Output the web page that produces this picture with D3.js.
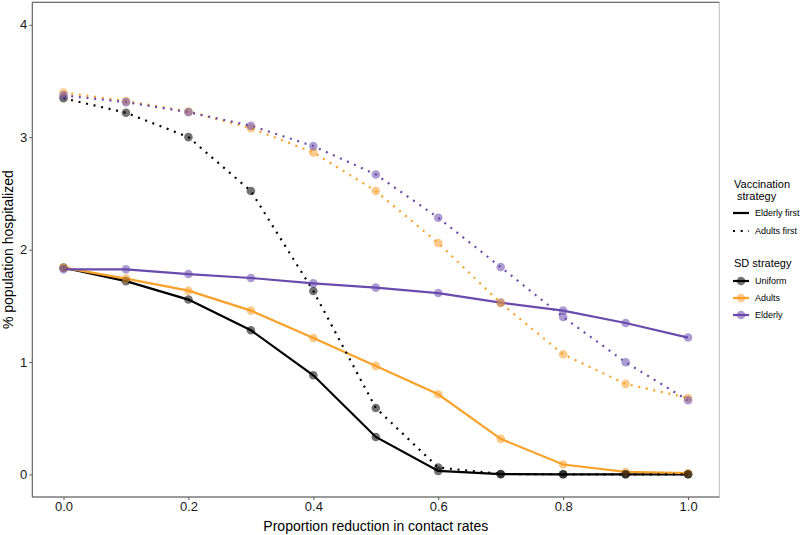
<!DOCTYPE html>
<html><head><meta charset="utf-8">
<script src="https://cdn.jsdelivr.net/npm/d3@7"></script>
<style>body{margin:0;background:#fff;} text{font-family:"Liberation Sans",Arial,sans-serif;}</style>
</head><body><svg id="chart" width="800" height="535"></svg>
<script>
const xValues = [0.0,0.1,0.2,0.3,0.4,0.5,0.6,0.7,0.8,0.9,1.0];
const sdStrategies = ["Uniform","Adults","Elderly"];
const vaccStrategies = ["Elderly first","Adults first"];
// Elderly first (solid)
const uniformElderlyFirst = [1.84,1.72,1.556,1.283,0.883,0.334,0.032,0.003,0.002,0.002,0.002];
const adultsElderlyFirst  = [1.84,1.742,1.635,1.458,1.214,0.966,0.714,0.317,0.089,0.023,0.012];
const elderlyElderlyFirst = [1.825,1.825,1.783,1.748,1.70,1.662,1.614,1.529,1.458,1.348,1.218];
// Adults first (dotted)
const uniformAdultsFirst = [3.346,3.218,3.001,2.521,1.632,0.592,0.062,0.005,0.002,0.002,0.002];
const adultsAdultsFirst  = [3.398,3.321,3.229,3.081,2.865,2.521,2.059,1.525,1.069,0.806,0.681];
const elderlyAdultsFirst = [3.372,3.312,3.223,3.102,2.921,2.669,2.284,1.845,1.401,0.998,0.660];
const xTicks = [0.0,0.2,0.4,0.6,0.8,1.0];
const yTicks = [0,1,2,3,4];

const colors = {"Uniform":"#000000","Adults":"#F8A12B","Elderly":"#6A4BAD"};
const series = [
  {sd:"Uniform",vacc:"Elderly first",values:uniformElderlyFirst},
  {sd:"Adults",vacc:"Elderly first",values:adultsElderlyFirst},
  {sd:"Elderly",vacc:"Elderly first",values:elderlyElderlyFirst},
  {sd:"Uniform",vacc:"Adults first",values:uniformAdultsFirst},
  {sd:"Adults",vacc:"Adults first",values:adultsAdultsFirst},
  {sd:"Elderly",vacc:"Adults first",values:elderlyAdultsFirst}
];
const DOT = "2,5.7";

const svg = d3.select("#chart");
const P = {l:32.3,r:719.3,t:2.3,b:497};
const x = d3.scaleLinear().domain([-0.05,1.05]).range([P.l,P.r]);
const y = d3.scaleLinear().domain([-0.2,4.2]).range([P.b,P.t]);

// panel border
svg.append("rect").attr("x",P.l).attr("y",P.t).attr("width",P.r-P.l).attr("height",P.b-P.t)
  .attr("fill","none").attr("stroke","#bdbdbd").attr("stroke-width",1);
svg.append("line").attr("x1",P.l).attr("x2",P.r).attr("y1",P.t).attr("y2",P.t).attr("stroke","#5a5a5a");
svg.append("line").attr("x1",P.l).attr("x2",P.l).attr("y1",P.t).attr("y2",P.b).attr("stroke","#5a5a5a");
svg.append("line").attr("x1",P.l).attr("x2",P.r).attr("y1",P.b).attr("y2",P.b).attr("stroke","#5a5a5a");

// axes
const xAxis = svg.append("g").attr("transform",`translate(0,${P.b})`)
  .call(d3.axisBottom(x).tickValues(xTicks).tickFormat(d3.format(".1f")).tickSizeOuter(0).tickSizeInner(3).tickPadding(2));
xAxis.select(".domain").remove();
xAxis.selectAll("line").attr("stroke","#5a5a5a");
xAxis.selectAll("text").attr("font-size",13).attr("fill","#1a1a1a");
const yAxis = svg.append("g").attr("transform",`translate(${P.l},0)`)
  .call(d3.axisLeft(y).tickValues(yTicks).tickFormat(d3.format("d")).tickSizeOuter(0).tickSizeInner(3).tickPadding(2));
yAxis.select(".domain").remove();
yAxis.selectAll("line").attr("stroke","#5a5a5a");
yAxis.selectAll("text").attr("font-size",13).attr("fill","#1a1a1a");

svg.append("text").attr("x",(P.l+P.r)/2).attr("y",531).attr("text-anchor","middle")
  .attr("font-size",14).attr("fill","#000").text("Proportion reduction in contact rates");
svg.append("text").attr("transform",`translate(13,${(P.t+P.b)/2}) rotate(-90)`).attr("text-anchor","middle")
  .attr("font-size",14).attr("fill","#000").text("% population hospitalized");

// lines
const line = d3.line().x((d,i)=>x(xValues[i])).y(d=>y(d));
const g = svg.append("g");
series.forEach(s=>{
  g.append("path").datum(s.values).attr("d",line).attr("fill","none")
    .attr("stroke",colors[s.sd]).attr("stroke-width",2.2)
    .attr("stroke-dasharray", s.vacc==="Adults first"?DOT:null);
});
series.forEach(s=>{
  g.selectAll(null).data(s.values).enter().append("circle")
    .attr("cx",(d,i)=>x(xValues[i])).attr("cy",d=>y(d)).attr("r",4.3)
    .attr("fill",colors[s.sd]).attr("fill-opacity",0.55);
});

// legend
const L = svg.append("g");
L.append("text").attr("x",734).attr("y",188).attr("font-size",11).text("Vaccination");
L.append("text").attr("x",734).attr("y",200).attr("font-size",11).text(" strategy").attr("xml:space","preserve");
vaccStrategies.forEach((v,i)=>{
  const yy = 213 + i*18;
  L.append("line").attr("x1",733).attr("x2",749).attr("y1",yy).attr("y2",yy).attr("stroke","#000")
   .attr("stroke-width",2.2).attr("stroke-dasharray", v==="Adults first"?DOT:null);
  L.append("text").attr("x",755).attr("y",yy+3.2).attr("font-size",9).text(v);
});
L.append("text").attr("x",734).attr("y",267).attr("font-size",11).text("SD strategy");
sdStrategies.forEach((sd,i)=>{
  const yy = 281 + i*17;
  L.append("line").attr("x1",733).attr("x2",749).attr("y1",yy).attr("y2",yy).attr("stroke",colors[sd]).attr("stroke-width",2.2);
  L.append("circle").attr("cx",741).attr("cy",yy).attr("r",4.3).attr("fill",colors[sd]).attr("fill-opacity",0.55);
  L.append("text").attr("x",755).attr("y",yy+3.2).attr("font-size",9).text(sd);
});
</script></body></html>
